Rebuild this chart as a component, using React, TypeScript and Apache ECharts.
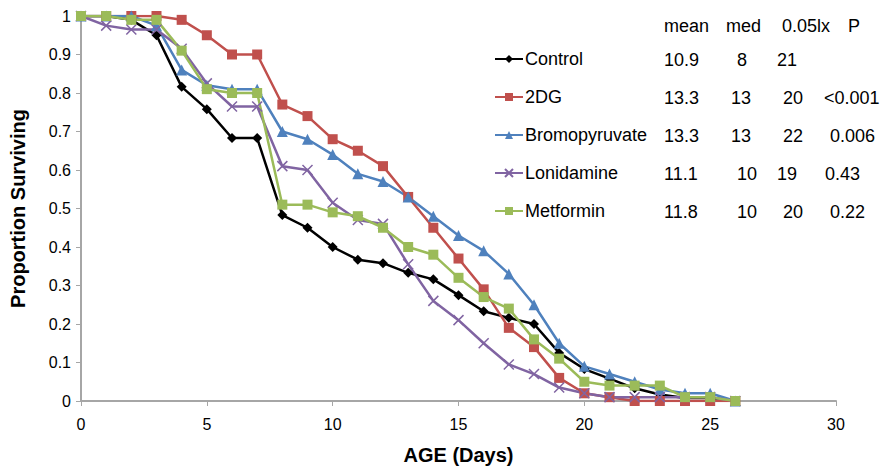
import React, { useEffect, useRef } from "react";
import * as echarts from "echarts";

const days = [0, 1, 2, 3, 4, 5, 6, 7, 8, 9, 10, 11, 12, 13, 14, 15, 16, 17, 18, 19, 20, 21, 22, 23, 24, 25, 26];
const control = [1, 1, 0.99, 0.95, 0.816, 0.758, 0.683, 0.683, 0.483, 0.45, 0.4, 0.367, 0.358, 0.333, 0.316, 0.275, 0.233, 0.216, 0.2, 0.125, 0.083, 0.058, 0.033, 0.017, 0.008, 0.008, 0];
const dg2 = [1, 1, 1, 1, 0.99, 0.95, 0.9, 0.9, 0.77, 0.74, 0.68, 0.65, 0.61, 0.53, 0.45, 0.37, 0.29, 0.19, 0.14, 0.06, 0.02, 0.01, 0, 0, 0, 0, 0];
const bromo = [1, 1, 1, 0.975, 0.86, 0.82, 0.81, 0.81, 0.7, 0.68, 0.64, 0.59, 0.57, 0.53, 0.48, 0.43, 0.39, 0.33, 0.25, 0.15, 0.09, 0.07, 0.05, 0.03, 0.02, 0.02, 0];
const loni = [1, 0.975, 0.965, 0.965, 0.915, 0.825, 0.765, 0.765, 0.61, 0.6, 0.515, 0.47, 0.46, 0.355, 0.26, 0.21, 0.15, 0.095, 0.07, 0.035, 0.02, 0.01, 0.01, 0.01, 0.01, 0.01, 0];
const met = [1, 1, 0.99, 0.99, 0.91, 0.81, 0.8, 0.8, 0.51, 0.51, 0.49, 0.48, 0.45, 0.4, 0.38, 0.32, 0.27, 0.24, 0.16, 0.11, 0.05, 0.04, 0.04, 0.04, 0.01, 0.01, 0];

const seriesNames = ["Control", "2DG", "Bromopyruvate", "Lonidamine", "Metformin"];
const tableHeader = ["mean", "med", "0.05lx", "P"];
const tableMean = ["10.9", "13.3", "13.3", "11.1", "11.8"];
const tableMed = ["8", "13", "13", "10", "10"];
const tableLx = ["21", "20", "22", "19", "20"];
const tableP = ["", "<0.001", "0.006", "0.43", "0.22"];

// layout (positions only)
const headerX = [664, 726, 782, 848];
const medX = [737, 731, 731, 737, 737];
const lxX = [777, 783, 783, 777, 783];
const pX = [0, 824, 830, 825, 830];
const headerY = 27;
const rowY = [61, 99, 137, 175, 213];
const FONT = "'Liberation Sans', Arial, Helvetica, sans-serif";

export default function App() {
  const ref = useRef<HTMLDivElement>(null);
  useEffect(() => {
    document.body.style.margin = "0";
    if (!ref.current) return;
    const chart = echarts.init(ref.current, null, { renderer: "svg" });
    const colors = ["#000000", "#C0504D", "#4F81BD", "#8064A2", "#9BBB59"];
    const symbols = ["diamond", "rect", "triangle", "path://M0,0L10,10M10,0L0,10", "rect"];
    const sizes = [10, 10, 11, 10, 10];
    const values = [control, dg2, bromo, loni, met];

    const series = values.map((vals, i) => ({
      name: seriesNames[i],
      type: "line",
      data: vals.map((v, j) => [days[j], v]),
      symbol: symbols[i],
      symbolSize: sizes[i],
      showAllSymbol: true,
      color: colors[i],
      lineStyle: { color: colors[i], width: 2.5 },
      itemStyle:
        i === 3
          ? { color: "rgba(0,0,0,0)", borderColor: colors[i], borderWidth: 1.5 }
          : { color: colors[i] },
      emphasis: { disabled: true },
    }));

    const texts: any[] = [];
    tableHeader.forEach((t, i) => {
      texts.push({
        type: "text",
        left: headerX[i],
        top: headerY - 10,
        style: { text: t, font: `18px ${FONT}`, fill: "#000" },
      });
    });
    for (let r = 0; r < 5; r++) {
      const cells: [string, number][] = [
        [tableMean[r], 664],
        [tableMed[r], medX[r]],
        [tableLx[r], lxX[r]],
        [tableP[r], pX[r]],
      ];
      cells.forEach(([t, x]) => {
        if (!t) return;
        texts.push({
          type: "text",
          left: x,
          top: rowY[r] - 10,
          style: { text: t, font: `18px ${FONT}`, fill: "#000" },
        });
      });
    }

    chart.setOption({
      animation: false,
      backgroundColor: "#fff",
      textStyle: { fontFamily: FONT },
      grid: { left: 81, right: 44, top: 16, bottom: 66, containLabel: false },
      xAxis: {
        type: "value",
        min: 0,
        max: 30,
        interval: 5,
        name: "AGE (Days)",
        nameLocation: "middle",
        nameGap: 44,
        nameTextStyle: { fontSize: 20, fontWeight: "bold", color: "#000", fontFamily: FONT },
        axisLine: { show: true, onZero: false, lineStyle: { color: "#A6A6A6", width: 2 } },
        axisTick: { show: true, length: 5, lineStyle: { color: "#A6A6A6", width: 1 } },
        axisLabel: { fontSize: 16, color: "#000", margin: 15, fontFamily: FONT },
        splitLine: { show: false },
      },
      yAxis: {
        type: "value",
        min: 0,
        max: 1,
        interval: 0.1,
        name: "Proportion Surviving",
        nameLocation: "middle",
        nameGap: 53,
        nameTextStyle: { fontSize: 20, fontWeight: "bold", color: "#000", fontFamily: FONT },
        axisLine: { show: true, lineStyle: { color: "#A6A6A6", width: 2 } },
        axisTick: { show: true, length: 5, lineStyle: { color: "#A6A6A6", width: 1 } },
        axisLabel: {
          fontSize: 16,
          color: "#000",
          margin: 10,
          fontFamily: FONT,
          formatter: (v: number) => (v === 0 ? "0" : Math.abs(v - 1) < 1e-9 ? "1" : v.toFixed(1)),
        },
        splitLine: { show: false },
      },
      legend: {
        orient: "vertical",
        left: 489,
        top: 44,
        itemWidth: 28,
        itemHeight: 10,
        itemGap: 18,
        selectedMode: false,
        data: seriesNames,
        textStyle: { fontSize: 18, color: "#000", lineHeight: 20, fontFamily: FONT, padding: [0, 0, 0, -3] },
      },
      graphic: texts,
      series,
    });
    return () => chart.dispose();
  }, []);
  return <div ref={ref} style={{ width: 880, height: 470 }} />;
}
